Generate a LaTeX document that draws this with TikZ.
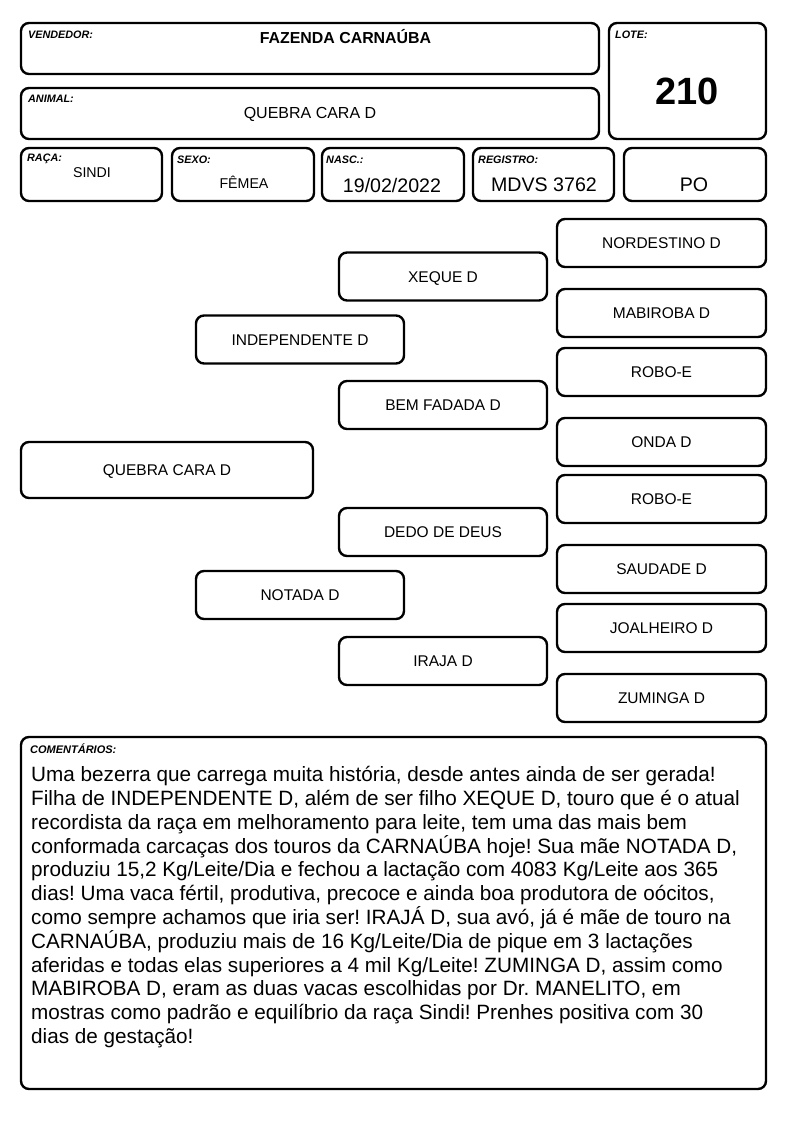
\documentclass[tikz,border=0pt]{standalone}
\usepackage{fontspec}
\setmainfont{Liberation Sans}
\frenchspacing
\begin{document}
\begin{tikzpicture}[x=1pt,y=-1pt,
  box/.style={draw=black, line width=2.4pt, rounded corners=8pt, fill=white, inner sep=0pt},
  lbl/.style={anchor=base west, inner sep=0pt, font=\fontsize{10.8}{12}\selectfont\bfseries\itshape},
  val/.style={anchor=base, inner sep=0pt},
  ped/.style={box, font=\fontsize{15.5}{18}\selectfont, text height=11.1pt, text depth=0pt},
  pedA/.style={ped, minimum width=208pt, minimum height=48pt},
  pedB/.style={ped, minimum width=209pt, minimum height=48pt}]
\useasboundingbox (0,0) rectangle (794,1123);
\fill[white] (0,0) rectangle (794,1123);
% header boxes
\node[box, minimum width=578pt, minimum height=51pt] (vendbox) at (310,48.5) {};
\node[box, minimum width=578pt, minimum height=51pt] (animbox) at (310,113.5) {};
\node[box, minimum width=157pt, minimum height=116pt] (lotebox) at (687.5,81) {};
\node[box, minimum width=141pt, minimum height=53pt] (racabox) at (91.5,174.5) {};
\node[box, minimum width=142pt, minimum height=53pt] (sexobox) at (243,174.5) {};
\node[box, minimum width=142pt, minimum height=53pt] (nascbox) at (393,174.5) {};
\node[box, minimum width=141pt, minimum height=53pt] (regbox) at (543.5,174.5) {};
\node[box, minimum width=142pt, minimum height=53pt] (pobox) at (695,174.5) {};
% labels
\node[lbl] (vendl) at (28,39) {VENDEDOR:};
\node[lbl] (animl) at (28,102.3) {ANIMAL:};
\node[lbl] (lotel) at (615,38.3) {LOTE:};
\node[lbl] (racal) at (27,161.7) {RAÇA:};
\node[lbl] (sexol) at (177,163.7) {SEXO:};
\node[lbl] (nascl) at (326,163.7) {NASC.:};
\node[lbl] (regl) at (478,164) {REGISTRO:};
% values
\node[val, font=\fontsize{15.9}{18}\selectfont\bfseries] (vend) at (345.5,43.5) {FAZENDA CARNAÚBA};
\node[val, font=\fontsize{16}{18}\selectfont] (anim) at (310,119) {QUEBRA CARA D};
\node[val, font=\fontsize{38}{40}\selectfont\bfseries] (lote) at (687,105) {210};
\node[val, font=\fontsize{14.2}{16}\selectfont] (raca) at (92,178) {SINDI};
\node[val, font=\fontsize{14.2}{16}\selectfont] (sexo) at (244,189) {FÊMEA};
\node[val, font=\fontsize{19.6}{22}\selectfont] (nasc) at (392,192.5) {19/02/2022};
\node[val, font=\fontsize{19.6}{22}\selectfont] (reg) at (544,192) {MDVS 3762};
\node[val, font=\fontsize{19.6}{22}\selectfont] (po) at (694,192) {PO};
% pedigree
\node[ped, minimum width=292pt, minimum height=56pt] (animal) at (167,470) {QUEBRA CARA D};
\node[pedA] (pai) at (300,339.5) {INDEPENDENTE D};
\node[pedA] (mae) at (300,595) {NOTADA D};
\node[pedA] (avop) at (443,276.5) {XEQUE D};
\node[pedA] (avap) at (443,405) {BEM FADADA D};
\node[pedA] (avom) at (443,532) {DEDO DE DEUS};
\node[pedA] (avam) at (443,661) {IRAJA D};
\node[pedB] (b1) at (661.5,243) {NORDESTINO D};
\node[pedB] (b2) at (661.5,313) {MABIROBA D};
\node[pedB] (b3) at (661.5,372) {ROBO-E};
\node[pedB] (b4) at (661.5,442) {ONDA D};
\node[pedB] (b5) at (661.5,499) {ROBO-E};
\node[pedB] (b6) at (661.5,569) {SAUDADE D};
\node[pedB] (b7) at (661.5,628) {JOALHEIRO D};
\node[pedB] (b8) at (661.5,698) {ZUMINGA D};
% comments
\node[box, minimum width=745pt, minimum height=352pt] (combox) at (393.5,913) {};
\node[lbl, font=\fontsize{11}{12}\selectfont\bfseries\itshape] (coml) at (30,753.3) {COMENTÁRIOS:};
\node[anchor=north west, inner sep=0pt, align=left, font=\fontsize{20.7}{23.8}\selectfont] (com) at (31,761.5) {\rule{0pt}{20pt}Uma bezerra que carrega muita história, desde antes ainda de ser gerada!\\
Filha de INDEPENDENTE D, além de ser filho XEQUE D, touro que é o atual\\
recordista da raça em melhoramento para leite, tem uma das mais bem\\
conformada carcaças dos touros da CARNAÚBA hoje! Sua mãe NOTADA D,\\
produziu 15,2 Kg/Leite/Dia e fechou a lactação com 4083 Kg/Leite aos 365\\
dias! Uma vaca fértil, produtiva, precoce e ainda boa produtora de oócitos,\\
como sempre achamos que iria ser! IRAJÁ D, sua avó, já é mãe de touro na\\
CARNAÚBA, produziu mais de 16 Kg/Leite/Dia de pique em 3 lactações\\
aferidas e todas elas superiores a 4 mil Kg/Leite! ZUMINGA D, assim como\\
MABIROBA D, eram as duas vacas escolhidas por Dr. MANELITO, em\\
mostras como padrão e equilíbrio da raça Sindi! Prenhes positiva com 30\\
dias de gestação!};
\end{tikzpicture}
\end{document}
